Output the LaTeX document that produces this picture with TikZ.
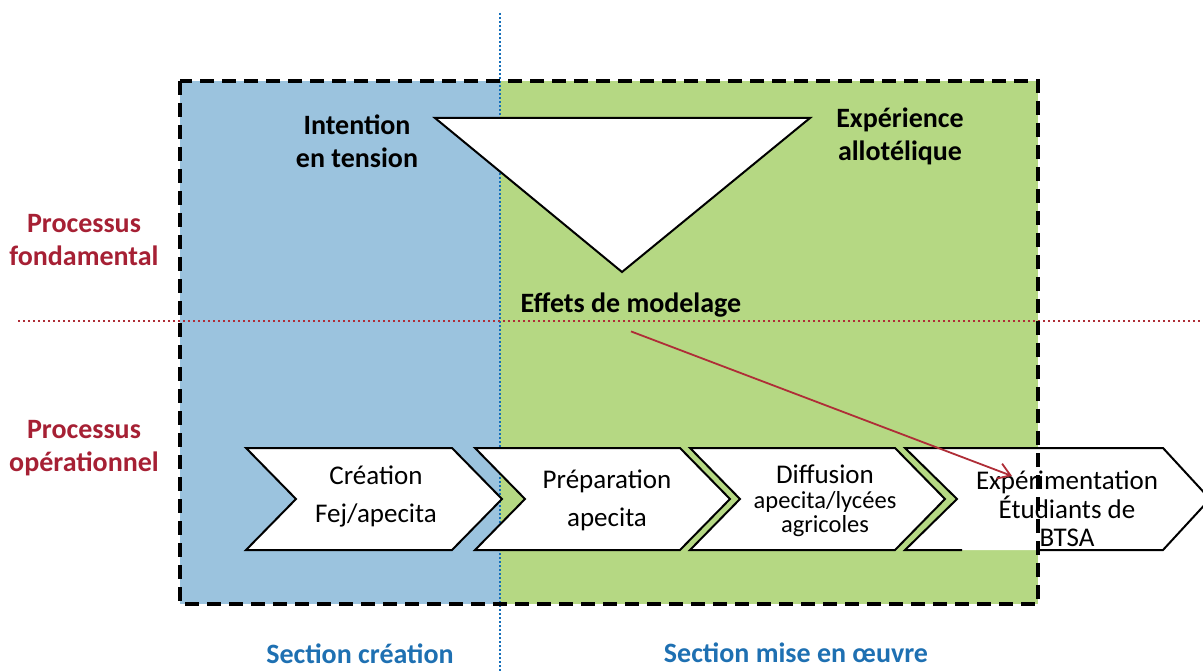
\documentclass[tikz,border=0pt]{standalone}
\usepackage{fontspec}
\setmainfont{Carlito}
\usetikzlibrary{arrows.meta}
\definecolor{bluebg}{RGB}{155,195,222}
\definecolor{greenbg}{RGB}{181,216,131}
\definecolor{redtxt}{RGB}{166,32,52}
\definecolor{bluetxt}{RGB}{30,112,178}
\definecolor{reddot}{RGB}{175,45,55}
\definecolor{bluedot}{RGB}{20,110,185}
\tikzset{
  lab/.style={font=\fontsize{28}{33}\selectfont\bfseries, align=center, inner sep=0pt},
  redlab/.style={lab, text=redtxt},
  bluelab/.style={lab, text=bluetxt},
  chev/.style={fill=white, draw=black, line width=2pt, line join=miter},
  chevtxt/.style={font=\fontsize{27}{38}\selectfont, align=center, inner sep=0pt},
  arr/.style={draw=reddot, line width=1.8pt, -{Straight Barb[length=12pt,width=16pt,line width=1.8pt]}}
}
\begin{document}
\begin{tikzpicture}[x=1pt,y=-1pt]
\useasboundingbox (0,0) rectangle (1203,671);
% backgrounds
\fill[bluebg] (180,81) rectangle (500,604);
\fill[greenbg] (500,81) rectangle (1038,604);
% separator lines
\draw[bluedot, line width=2pt, dash pattern=on 2pt off 2pt] (500,13) -- (500,671);
\draw[reddot, line width=2pt, dash pattern=on 2pt off 3pt] (18,321) -- (1203,321);
% triangle
\draw[fill=white, line width=2pt, line join=miter] (435,118) -- (810,118) -- (622,272) -- cycle;
% chevrons
\draw[chev] (246,448) -- (452,448) -- (502,499) -- (452,550) -- (246,550) -- (296,499) -- cycle;
\draw[chev] (475,448) -- (680,448) -- (730,499) -- (680,550) -- (475,550) -- (525,499) -- cycle;
\draw[chev] (690,448) -- (895,448) -- (945,499) -- (895,550) -- (690,550) -- (740,499) -- cycle;
\fill[white] (905,448) -- (1163,448) -- (1210,499) -- (1163,550) -- (905,550) -- (957,499) -- cycle;
\draw[line width=2pt, line join=miter] (962,550) -- (905,550) -- (957,499) -- (905,448) -- (1163,448) -- (1210,499) -- (1163,550) -- (1038,550);
% chevron texts
\node[chevtxt] (c1) at (376,496) {Création\\Fej/apecita};
\node[chevtxt] (c2) at (607,500) {Préparation\\apecita};
\node[chevtxt, font=\fontsize{27}{28}\selectfont] (c3a) at (825,474) {Diffusion};
\node[chevtxt, font=\fontsize{24.5}{24}\selectfont] (c3) at (825,514) {apecita/lycées\\agricoles};
\node[chevtxt, font=\fontsize{27}{28.5}\selectfont] (c4) at (1067,509) {Expérimentation\\Étudiants de\\BTSA};
% outer dashed frame
\draw[line width=3.5pt, dash pattern=on 14pt off 8pt] (180,81) rectangle (1038,604);
% upper labels
\node[lab] (int) at (357,141) {Intention\\en tension};
\node[lab] (exp) at (900,136) {Expérience\\allotélique};
\node[lab] (eff) at (631,305) {Effets de modelage};
% left labels
\node[redlab] (pf) at (84,240) {Processus\\fondamental};
\node[redlab] (po) at (84,448) {Processus\\opérationnel};
% bottom labels
\node[bluelab] (sc) at (360,654) {Section création};
\node[bluelab] (sm) at (796,653) {Section mise en œuvre};
% arrow
\coordinate (arrEnd) at (1012,476);
\draw[arr] ([yshift=-14pt]eff.south) -- (arrEnd);
\end{tikzpicture}
\end{document}
